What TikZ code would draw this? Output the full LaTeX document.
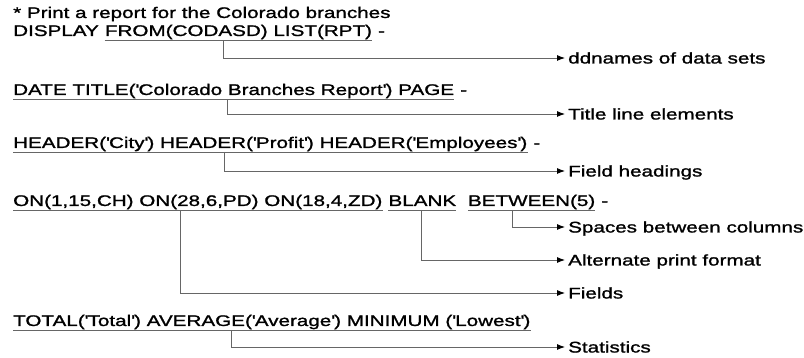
\documentclass[tikz,border=0pt]{standalone}
\usepackage{fontspec}
\setmainfont[FakeStretch=1.34,FakeBold=1.3]{Liberation Sans}
\usetikzlibrary{arrows.meta}

\newlength\wgap
\setlength\wgap{5.7pt}
\newcommand\q{\textquotesingle}

\tikzset{
  code/.style={anchor=base west, inner sep=0pt, font=\fontsize{15.4}{18}\selectfont},
  note/.style={anchor=west, inner xsep=3pt, inner ysep=0pt, text height=11pt, text depth=0pt,
    font=\fontsize{15.4}{18}\selectfont},
  uline/.style={draw=black!60, line width=0.9pt},
  callout/.style={draw=black!60, line width=0.9pt, -{Latex[length=8pt,width=6pt,color=black]}}
}

\begin{document}
\begin{tikzpicture}[x=1pt,y=-1pt]
  \useasboundingbox (0,0) rectangle (804,358);

  % comment
  \node[code] (cmt) at (13,18) {* Print a report for the Colorado branches};

  % DISPLAY line
  \node[code] (disp) at (13,36) {DISPLAY};
  \node[code] (dsets) at ([xshift=\wgap]disp.base east) {FROM(CODASD) LIST(RPT)};
  \node[code] (dash2) at ([xshift=\wgap]dsets.base east) {-};
  \draw[uline] ([yshift=-4pt]dsets.base west) -- ([yshift=-4pt]dsets.base east);
  \node[note] (ddn) at (565,58) {ddnames of data sets};
  \coordinate (c2) at (223,40);
  \draw[callout] (c2) |- (ddn.west);

  % title line
  \node[code] (ttl) at (13,95) {DATE TITLE(\q Colorado Branches Report\q) PAGE};
  \node[code] (dash3) at ([xshift=\wgap]ttl.base east) {-};
  \draw[uline] ([yshift=-4pt]ttl.base west) -- ([yshift=-4pt]ttl.base east);
  \node[note] (tle) at (565,114) {Title line elements};
  \coordinate (c3) at (227,99);
  \draw[callout] (c3) |- (tle.west);

  % headers
  \node[code] (hdr) at (13,148) {HEADER(\q City\q) HEADER(\q Profit\q) HEADER(\q Employees\q)};
  \node[code] (dash4) at ([xshift=\wgap]hdr.base east) {-};
  \draw[uline] ([yshift=-4pt]hdr.base west) -- ([yshift=-4pt]hdr.base east);
  \node[note] (fhd) at (565,171) {Field headings};
  \coordinate (c4) at (224,152);
  \draw[callout] (c4) |- (fhd.west);

  % fields
  \node[code] (ons) at (13,206) {ON(1,15,CH) ON(28,6,PD) ON(18,4,ZD)};
  \node[code] (blk) at ([xshift=\wgap]ons.base east) {BLANK};
  \node[code] (btw) at ([xshift=2\wgap]blk.base east) {BETWEEN(5)};
  \node[code] (dash5) at ([xshift=\wgap]btw.base east) {-};
  \draw[uline] ([yshift=-4pt]ons.base west) -- ([yshift=-4pt]ons.base east);
  \draw[uline] ([yshift=-4pt]blk.base west) -- ([yshift=-4pt]blk.base east);
  \draw[uline] ([yshift=-4pt]btw.base west) -- ([yshift=-4pt]btw.base east);
  \node[note] (spc) at (565,227) {Spaces between columns};
  \node[note] (alt) at (565,260) {Alternate print format};
  \node[note] (fld) at (565,293) {Fields};
  \coordinate (c5a) at (512,210);
  \coordinate (c5b) at (421,210);
  \coordinate (c5c) at (180,210);
  \draw[callout] (c5a) |- (spc.west);
  \draw[callout] (c5b) |- (alt.west);
  \draw[callout] (c5c) |- (fld.west);

  % statistics
  \node[code] (tot) at (13,326) {TOTAL(\q Total\q) AVERAGE(\q Average\q) MINIMUM (\q Lowest\q)};
  \draw[uline] ([yshift=-4pt]tot.base west) -- ([yshift=-4pt]tot.base east);
  \node[note] (sts) at (565,347) {Statistics};
  \coordinate (c6) at (231,330);
  \draw[callout] (c6) |- (sts.west);
\end{tikzpicture}
\end{document}
